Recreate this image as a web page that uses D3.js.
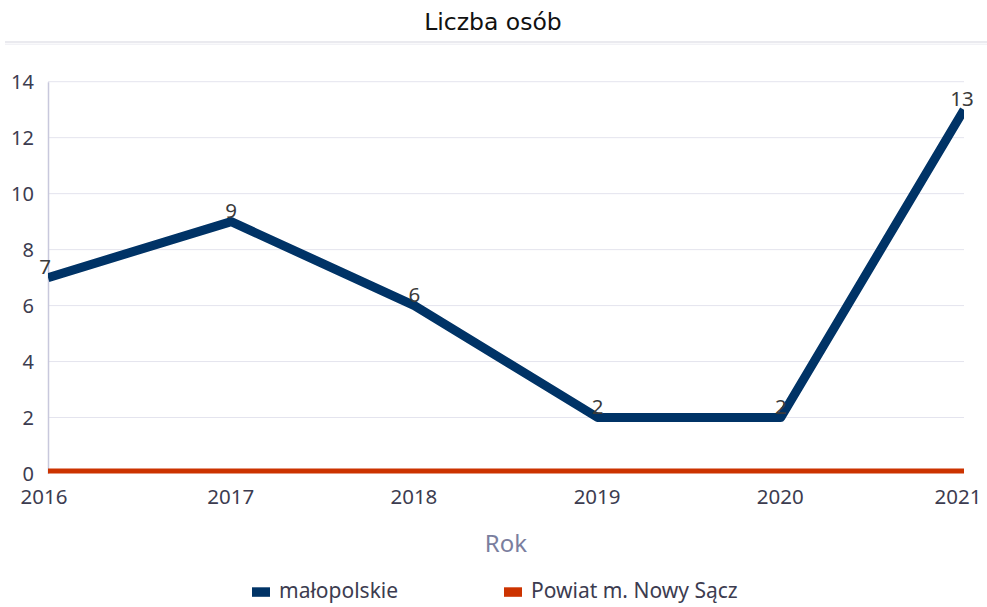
<!DOCTYPE html>
<html>
<head>
<meta charset="utf-8">
<script src="https://cdn.jsdelivr.net/npm/d3@7"></script>
<style>
  html, body { margin: 0; padding: 0; background: #fff; }
  svg { display: block; font-family: "Noto Sans", "Open Sans", sans-serif; }
</style>
</head>
<body>
<svg id="chart" width="987" height="607"></svg>
<script>
// Data
const years = [2016, 2017, 2018, 2019, 2020, 2021];
const malopolskie = [7, 9, 6, 2, 2, 13];
const nowySacz = [0, 0, 0, 0, 0, 0];
const yTicks = [0, 2, 4, 6, 8, 10, 12, 14];
const seriesNames = ["małopolskie", "Powiat m. Nowy Sącz"];
const seriesColors = ["#003366", "#cc3300"];

const svg = d3.select("#chart");
const W = 987, H = 607;
const m = { left: 48, right: 23, top: 81.7, bottom: 133.5 };
const innerW = W - m.left - m.right;
const innerH = H - m.top - m.bottom;

const x = d3.scalePoint().domain(years).range([m.left, m.left + innerW]);
const y = d3.scaleLinear().domain([0, 14]).range([m.top + innerH, m.top]);

const textColor = "#3c3c50";
const font = "'Noto Sans', 'Open Sans', sans-serif";

// Title
svg.append("text")
  .attr("x", 493).attr("y", 30)
  .attr("text-anchor", "middle")
  .attr("font-family", "'DejaVu Sans', sans-serif")
  .attr("font-size", 23.5)
  .attr("fill", "#111")
  .text("Liczba osób");

// Title separator
svg.append("line").attr("x1", 5).attr("x2", W).attr("y1", 42).attr("y2", 42)
  .attr("stroke", "#d6d6e0").attr("stroke-width", 1.2);
svg.append("line").attr("x1", 5).attr("x2", W).attr("y1", 44.2).attr("y2", 44.2)
  .attr("stroke", "#ececf2").attr("stroke-width", 1);

// Grid lines
svg.append("g")
  .selectAll("line")
  .data(yTicks.filter(d => d > 0))
  .join("line")
  .attr("x1", m.left).attr("x2", m.left + innerW)
  .attr("y1", d => y(d)).attr("y2", d => y(d))
  .attr("stroke", "#e4e4ee").attr("stroke-width", 1);

// Y axis
const yAxis = d3.axisLeft(y).tickValues(yTicks).tickSize(0).tickPadding(14);
const gy = svg.append("g").attr("transform", `translate(${m.left},0)`).call(yAxis);
gy.select(".domain").attr("stroke", "#c8c8dc").attr("stroke-width", 1.5);
gy.selectAll("text").attr("font-size", 20).attr("fill", textColor)
  .attr("font-family", font).attr("dy", "0.36em");

// X axis
const xAxis = d3.axisBottom(x).tickSize(0).tickPadding(20);
const gx = svg.append("g").attr("transform", `translate(0,${m.top + innerH})`).call(xAxis);
gx.select(".domain").remove();
gx.selectAll("text").attr("font-size", 20.5).attr("fill", textColor)
  .attr("font-family", font)
  .attr("dy", "0.5em")
  .attr("text-anchor", (d, i) => i === 0 ? "start" : (i === years.length - 1 ? "end" : "middle"))
  .attr("dx", (d, i) => i === 0 ? -28 : (i === years.length - 1 ? 17 : -1));

// Axis title
svg.append("text")
  .attr("x", 506).attr("y", 552)
  .attr("text-anchor", "middle")
  .attr("font-family", font)
  .attr("font-size", 24)
  .attr("fill", "#7a7e9e")
  .text("Rok");

// Clip to plot area
svg.append("clipPath").attr("id", "plotClip")
  .append("rect").attr("x", m.left).attr("y", m.top - 20)
  .attr("width", innerW).attr("height", innerH + 20);

const line = d3.line().x((d, i) => x(years[i])).y(d => y(d));

const plot = svg.append("g").attr("clip-path", "url(#plotClip)");
plot.append("path").datum(nowySacz)
  .attr("d", line).attr("fill", "none")
  .attr("stroke", seriesColors[1]).attr("stroke-width", 10);
plot.append("path").datum(malopolskie)
  .attr("d", line).attr("fill", "none")
  .attr("stroke", seriesColors[0]).attr("stroke-width", 9)
  .attr("stroke-linejoin", "round");

// Value labels
svg.append("g").selectAll("text")
  .data(malopolskie)
  .join("text")
  .attr("x", (d, i) => x(years[i]) + (i === 0 ? -3 : (i === years.length - 1 ? -2 : 0)))
  .attr("y", d => y(d) - 4)
  .attr("text-anchor", "middle")
  .attr("font-family", font)
  .attr("font-size", 20.5)
  .attr("fill", "#3a3a3a")
  .text(d => d);

// Legend
const legend = svg.append("g");
const legendItems = [
  { name: seriesNames[0], color: seriesColors[0], x: 252 },
  { name: seriesNames[1], color: seriesColors[1], x: 504 }
];
legendItems.forEach(it => {
  legend.append("rect").attr("x", it.x).attr("y", 587.3).attr("width", 18).attr("height", 9.5)
    .attr("fill", it.color);
  legend.append("text").attr("x", it.x + 27).attr("y", 598)
    .attr("font-family", font)
    .attr("font-size", 21).attr("fill", textColor).text(it.name);
});
</script>
</body>
</html>
